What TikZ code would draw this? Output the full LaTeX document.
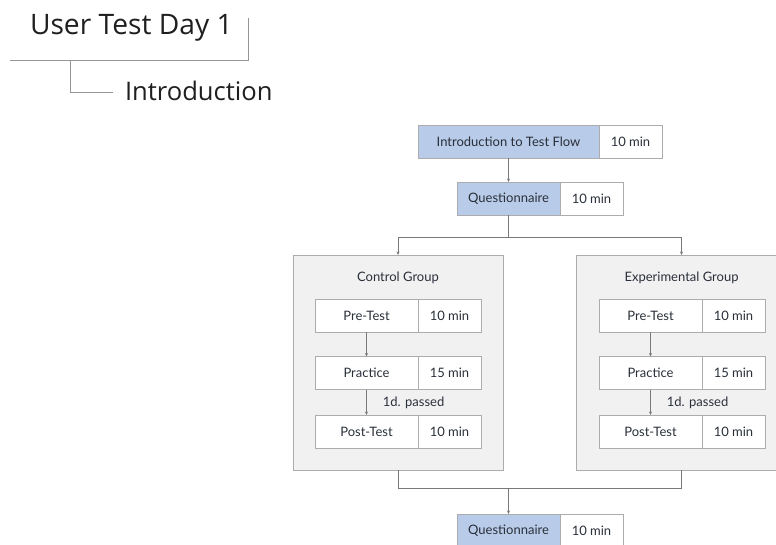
\documentclass[tikz,border=0pt]{standalone}
\usepackage{fontspec}
\setmainfont{Lato}
\newfontfamily\headfont{Open Sans}
\usetikzlibrary{positioning,arrows.meta,calc}
\definecolor{StepBlue}{RGB}{184,203,232}
\definecolor{GroupGrey}{RGB}{241,241,241}
\definecolor{EdgeGrey}{RGB}{172,172,172}
\definecolor{LinkGrey}{RGB}{120,120,120}
\definecolor{RuleGrey}{RGB}{150,150,150}
\definecolor{InkDark}{RGB}{42,48,58}

\begin{document}
\begin{tikzpicture}[x=1pt,y=-1pt, every node/.style={font=\fontsize{13}{15}\selectfont, text=InkDark, outer sep=0pt}]
\tikzset{
  stepbox/.style={draw=EdgeGrey, fill=StepBlue, minimum height=33, inner sep=0pt},
  timebox/.style={draw=EdgeGrey, fill=white, minimum width=63, minimum height=33, inner sep=0pt},
  taskbox/.style={draw=EdgeGrey, fill=white, minimum width=103, minimum height=33, inner sep=0pt},
  groupbox/.style={draw=EdgeGrey, fill=GroupGrey, minimum width=210, minimum height=215, inner sep=0pt},
  flow/.style={-{Stealth[length=3.5pt,width=3pt]}, LinkGrey, line width=0.7pt},
  link/.style={LinkGrey, line width=0.7pt},
  outline/.style={draw=RuleGrey, line width=1pt}
}
  \clip (0,0) rectangle (776,545);
  \fill[white] (0,0) rectangle (776,545);

  % heading outline
  \node[anchor=base west, font=\headfont\fontsize{28.2}{31}\selectfont, text=black!88, inner sep=0pt] (daytitle) at (30,35) {User Test Day 1};
  \node[anchor=base west, font=\headfont\fontsize{25.6}{28}\selectfont, text=black!88, inner sep=0pt] (introtitle) at (125,100.5) {Introduction};
  \coordinate (rulewest) at (10,61);
  \coordinate (ruletop) at (248,18);
  \coordinate (branch) at (70,61);
  \coordinate (branchend) at (113,93);
  \draw[outline] (rulewest) -| (ruletop);
  \draw[outline] (branch) |- (branchend);

  % groups
  \node[groupbox] (ctrl) at (398,362.5) {};
  \node[groupbox] (exp) at (681.5,362.5) {};
  \node (ctrltitle) at (398,278) {Control Group};
  \node (exptitle) at (681.5,278) {Experimental Group};

  % top flow
  \node[stepbox, minimum width=181] (intro) at (508.5,141.5) {Introduction to Test Flow};
  \node[timebox, right=0pt of intro] (introtime) {10 min};
  \node[stepbox, minimum width=103] (quest) at (508.5,198.5) {Questionnaire};
  \node[timebox, right=0pt of quest] (questtime) {10 min};
  \node[stepbox, minimum width=103] (questend) at (508.5,530.5) {Questionnaire};
  \node[timebox, right=0pt of questend] (questendtime) {10 min};

  % control group steps
  \node[taskbox] (cpre) at (366.5,315.5) {Pre-Test};
  \node[timebox, right=0pt of cpre] (cpretime) {10 min};
  \node[taskbox] (cprac) at (366.5,373) {Practice};
  \node[timebox, right=0pt of cprac] (cpractime) {15 min};
  \node[taskbox] (cpost) at (366.5,431.5) {Post-Test};
  \node[timebox, right=0pt of cpost] (cposttime) {10 min};

  % experimental group steps
  \node[taskbox] (epre) at (650.5,315.5) {Pre-Test};
  \node[timebox, right=0pt of epre] (epretime) {10 min};
  \node[taskbox] (eprac) at (650.5,373) {Practice};
  \node[timebox, right=0pt of eprac] (epractime) {15 min};
  \node[taskbox] (epost) at (650.5,431.5) {Post-Test};
  \node[timebox, right=0pt of epost] (eposttime) {10 min};

  % connectors
  \coordinate (split) at (508.5,237);
  \coordinate (merge) at (508.5,488);
  \draw[flow] (intro) -- (quest);
  \draw[link] (quest) -- (split);
  \draw[flow] (split) -| (ctrl.north);
  \draw[flow] (split) -| (exp.north);
  \draw[link] (ctrl.south) |- (merge);
  \draw[link] (exp.south) |- (merge);
  \draw[flow] (merge) -- (questend);

  \draw[flow] (cpre) -- (cprac);
  \draw[flow] (cprac) -- node[pos=0.52, anchor=west, xshift=13pt] {1d. passed} (cpost);
  \draw[flow] (epre) -- (eprac);
  \draw[flow] (eprac) -- node[pos=0.52, anchor=west, xshift=13pt] {1d. passed} (epost);
\end{tikzpicture}
\end{document}
